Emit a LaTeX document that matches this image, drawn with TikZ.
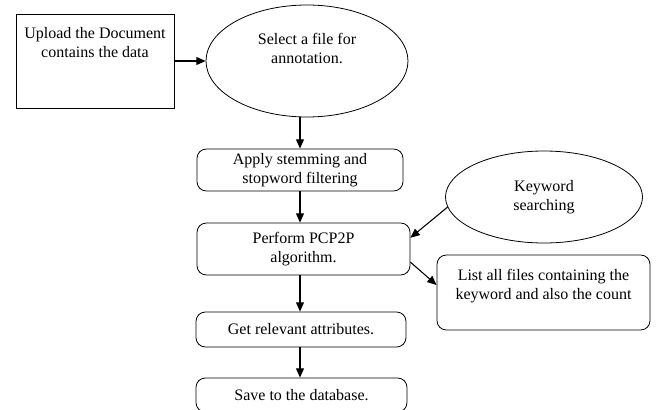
\documentclass[tikz,border=0pt]{standalone}
\usepackage{fontspec}
\setmainfont{Liberation Serif}
\usetikzlibrary{shapes.geometric,arrows.meta}

\begin{document}
\begin{tikzpicture}[x=0.75pt,y=-0.75pt,font=\fontsize{12}{14}\selectfont]
\tikzstyle{every node}=[align=center,inner sep=0pt];
\tikzstyle{squarebox}=[draw,rectangle,line width=0.6pt];
\tikzstyle{roundbox}=[draw,rectangle,rounded corners=7pt,line width=0.6pt];
\tikzstyle{ovalbox}=[draw,ellipse,line width=0.6pt];
\tikzstyle{flow}=[line width=0.8pt,-{Triangle[length=7pt,width=6pt]}];
\useasboundingbox (0,0) rectangle (656,410);

\node[squarebox,minimum width=118.5pt,minimum height=70.5pt,
  label={[yshift=14pt]center:Upload the Document\\contains the data}] (upload) at (95,61) {};
\node[ovalbox,minimum width=151.5pt,minimum height=84pt,
  label={[yshift=9.5pt]center:Select a file for\\annotation.}] (select) at (307,61) {};
\node[roundbox,minimum width=154.5pt,minimum height=31.5pt] (apply) at (300,170)
  {Apply stemming and\\stopword filtering};
\node[roundbox,minimum width=159.75pt,minimum height=39pt] (perform) at (303.5,249)
  {Perform PCP2P\\algorithm.};
\node[ovalbox,minimum width=147.75pt,minimum height=69pt] (keyword) at (544,197)
  {Keyword\\searching};
\node[roundbox,minimum width=159.75pt,minimum height=56.25pt,
  label={[yshift=5pt]center:List all files containing the\\keyword and also the count}] (list) at (543.5,292.5) {};
\node[roundbox,minimum width=157.5pt,minimum height=26.25pt] (get) at (301,329.5)
  {Get relevant attributes.};
\node[roundbox,minimum width=158.25pt,minimum height=25.5pt] (save) at (301.5,395)
  {Save to the database.};

% main flow
\draw[flow] (upload.east) -- (select.west);
\draw[flow] (apply.north |- select.south) -- (apply.north);
\draw[flow] (apply.south) -- (apply.south |- perform.north);
\draw[flow] (perform.south -| apply.south) -- (get.north -| apply.south);
\draw[flow] (get.south -| apply.south) -- (save.north -| apply.south);
% side branches
\draw[flow] (keyword.186) -- (perform.6);
\draw[flow] (perform.-7) -- (list.176);
\end{tikzpicture}
\end{document}
